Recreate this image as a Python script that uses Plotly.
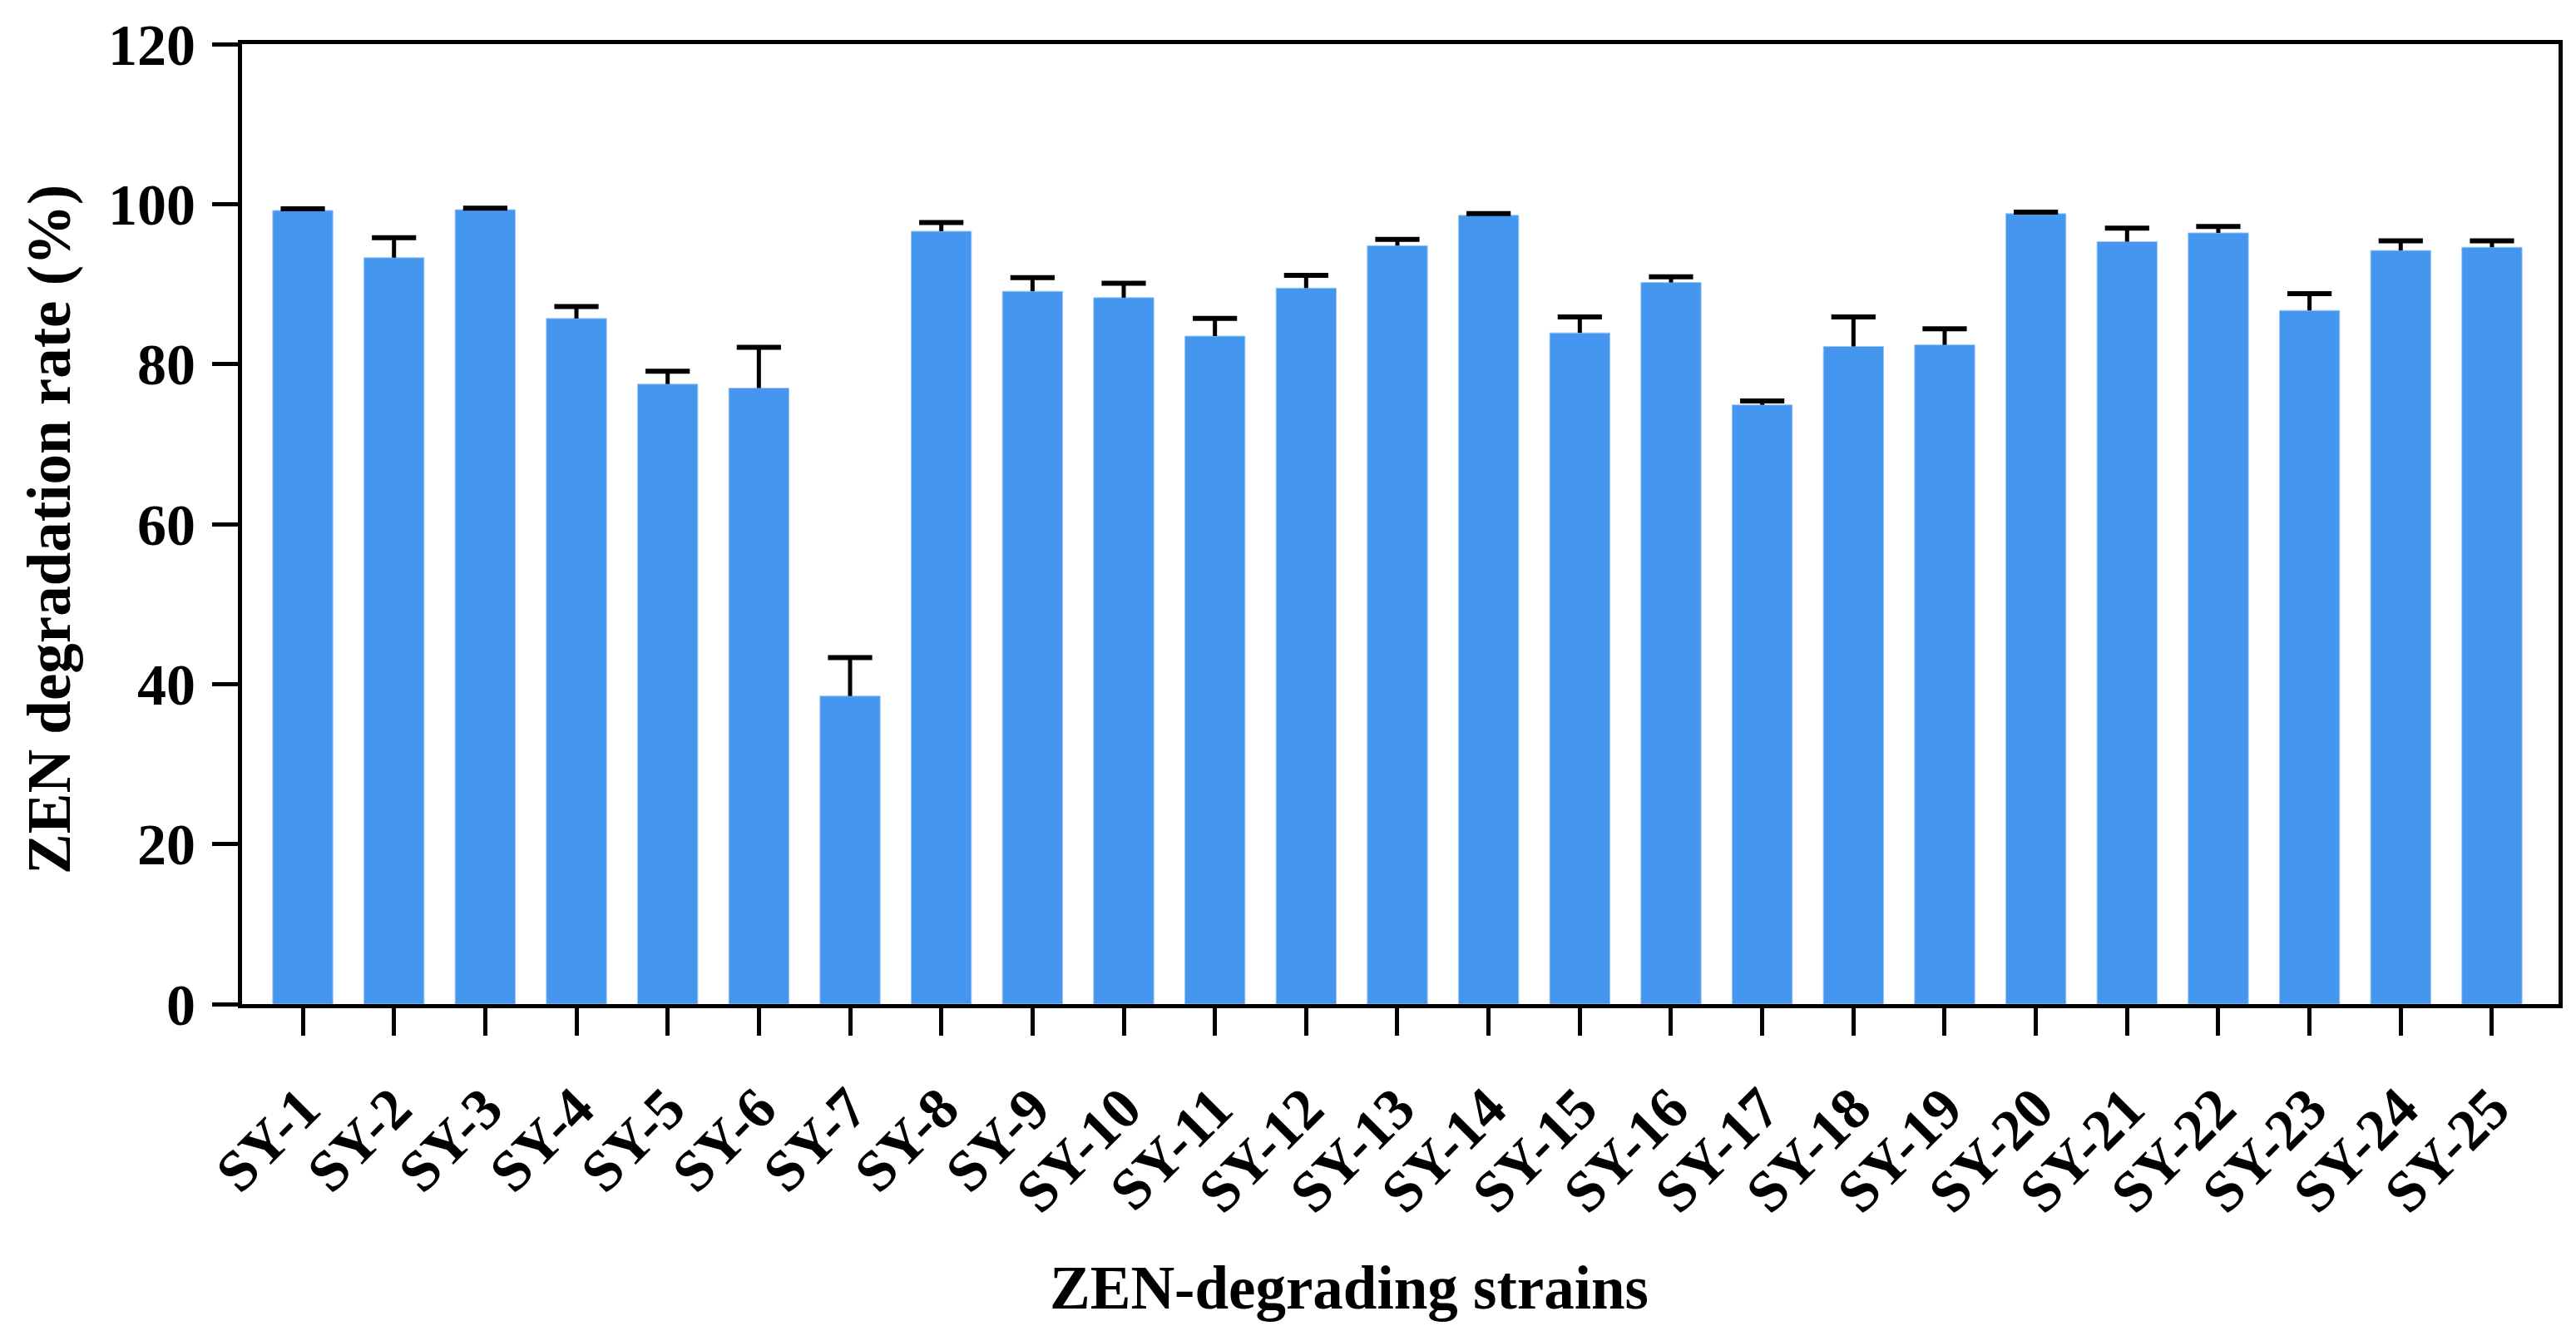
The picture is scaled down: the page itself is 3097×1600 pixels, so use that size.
import plotly.graph_objects as go

categories = ["SY-1", "SY-2", "SY-3", "SY-4", "SY-5", "SY-6", "SY-7", "SY-8", "SY-9", "SY-10",
              "SY-11", "SY-12", "SY-13", "SY-14", "SY-15", "SY-16", "SY-17", "SY-18", "SY-19", "SY-20",
              "SY-21", "SY-22", "SY-23", "SY-24", "SY-25"]
rates = [99.2, 93.3, 99.3, 85.7, 77.5, 77.0, 38.5, 96.6, 89.1, 88.3,
         83.5, 89.5, 94.8, 98.6, 83.9, 90.2, 74.9, 82.2, 82.4, 98.8,
         95.3, 96.4, 86.7, 94.2, 94.6]
errors = [0.2, 2.5, 0.2, 1.5, 1.6, 5.1, 4.8, 1.1, 1.7, 1.8,
          2.2, 1.6, 0.8, 0.2, 2.0, 0.7, 0.5, 3.7, 2.0, 0.2,
          1.7, 0.8, 2.1, 1.2, 0.8]
y_ticks = [0, 20, 40, 60, 80, 100, 120]

FONT = "Liberation Serif, Times New Roman, serif"
W, H = 3097, 1600
L, R, T, B = 283, 29, 45, 401

fig = go.Figure()
fig.add_trace(go.Bar(
    x=categories, y=rates, width=0.66,
    marker=dict(color="#4596EE", line=dict(color="#9cc8f5", width=1)),
    error_y=dict(type="data", symmetric=False, array=errors,
                 arrayminus=[0] * len(errors), width=0, thickness=5, color="black"),
    showlegend=False, hoverinfo="x+y",
))
fig.add_trace(go.Scatter(
    x=categories, y=[v + e for v, e in zip(rates, errors)], mode="markers",
    marker=dict(symbol="line-ew", size=38, line=dict(width=6, color="black"), color="black"),
    showlegend=False, hoverinfo="skip",
))

fig.update_layout(
    width=W, height=H,
    margin=dict(l=L, r=R, t=T, b=B, autoexpand=False),
    paper_bgcolor="white", plot_bgcolor="white",
    font=dict(family=FONT, color="black", size=69, weight="bold"),
    bargap=0.34,
)
fig.update_xaxes(
    type="category", range=[-0.666, 24.73],
    showline=True, linewidth=5, linecolor="black", mirror=True,
    ticks="outside", ticklen=33, tickwidth=5, tickcolor="black",
    tickangle=-45, ticklabelstandoff=18,
    tickfont=dict(family=FONT, size=70, weight="bold", color="black"),
    showgrid=False, zeroline=False, automargin=False,
)
fig.update_yaxes(
    range=[0, 120], tickvals=y_ticks, ticktext=[str(t) for t in y_ticks],
    showline=True, linewidth=5, linecolor="black", mirror=True,
    ticks="outside", ticklen=31, tickwidth=5, tickcolor="black", ticklabelstandoff=6,
    tickfont=dict(family=FONT, size=70, weight="bold", color="black"),
    showgrid=False, zeroline=False, automargin=False,
)

pw = W - L - R
ph = H - T - B
fig.add_annotation(
    text="ZEN-degrading strains", xref="paper", yref="paper",
    x=(1614 - L) / pw, y=-(1540 - (H - B)) / ph, xanchor="center", yanchor="middle",
    showarrow=False, font=dict(family=FONT, size=73, weight="bold", color="black"),
)
fig.add_annotation(
    text="ZEN degradation rate (%)", xref="paper", yref="paper", textangle=-90,
    x=(52 - L) / pw, y=1 - (629 - T) / ph, xanchor="center", yanchor="middle",
    showarrow=False, font=dict(family=FONT, size=73, weight="bold", color="black"),
)

fig.write_html("out.html")
